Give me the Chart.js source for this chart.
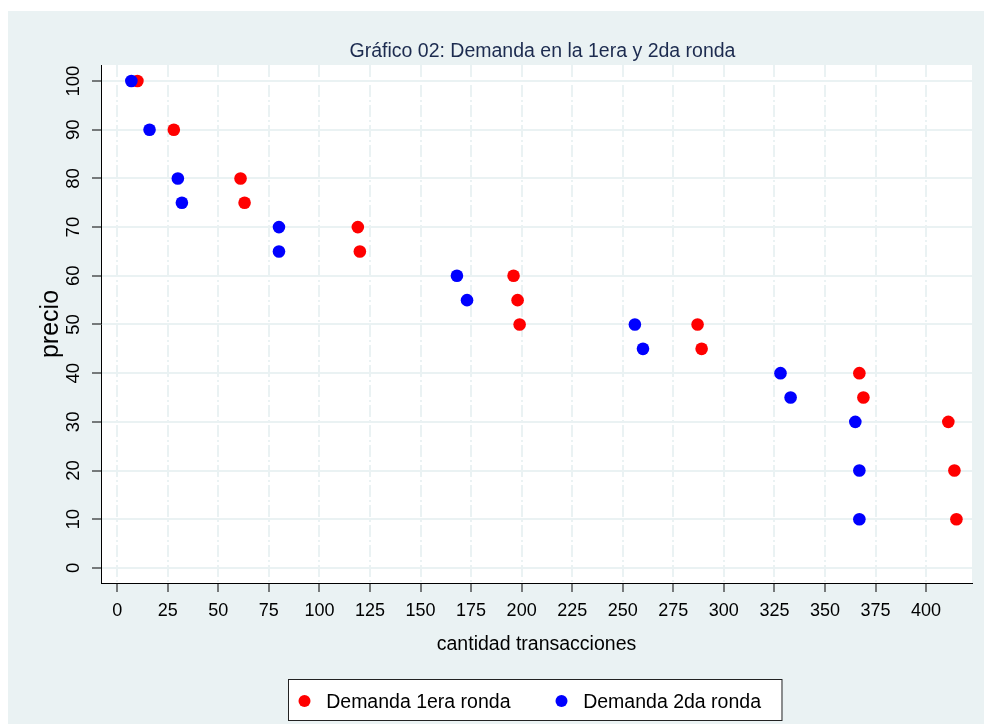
<!DOCTYPE html>
<html>
<head>
<meta charset="utf-8">
<script src="https://cdn.jsdelivr.net/npm/chart.js@4.4.1/dist/chart.umd.min.js"></script>
<style>
  body { margin: 0; background: #fff; }
  canvas { display: block; }
</style>
</head>
<body>
<canvas id="chart" width="984" height="724"></canvas>
<script>
const titleText = 'Gráfico 02: Demanda en la 1era y 2da ronda'
const xLabel = 'cantidad transacciones'
const yLabel = 'precio'
const xTicks = [0, 25, 50, 75, 100, 125, 150, 175, 200, 225, 250, 275, 300, 325, 350, 375, 400]
const yTicks = [0, 10, 20, 30, 40, 50, 60, 70, 80, 90, 100]

const ronda1Label = 'Demanda 1era ronda'
const ronda1X = [10, 28, 61, 63, 119, 120, 196, 198, 199, 287, 289, 367, 369, 411, 414, 415]
const ronda1Y = [100, 90, 80, 75, 70, 65, 60, 55, 50, 50, 45, 40, 35, 30, 20, 10]

const ronda2Label = 'Demanda 2da ronda'
const ronda2X = [7, 16, 30, 32, 80, 80, 168, 173, 256, 260, 328, 333, 365, 367, 367]
const ronda2Y = [100, 90, 80, 75, 70, 65, 60, 55, 50, 45, 40, 35, 30, 20, 10]

const FONT = "'Liberation Sans', Arial, sans-serif"
const BG = '#EAF2F3'

function toPoints(xs, ys) {
    return xs.map((x, i) => ({x: x, y: ys[i]}))
}

// fondo, titulo y leyenda en cuadro (estilo Stata)
const stataFrame = {
    id: 'stataFrame',
    beforeDraw(chart) {
        const {ctx, chartArea} = chart
        ctx.save()
        ctx.fillStyle = '#fff'
        ctx.fillRect(0, 0, chart.width, chart.height)
        ctx.fillStyle = BG
        ctx.fillRect(8, 11, chart.width - 8, chart.height - 11)
        ctx.fillStyle = '#fff'
        ctx.fillRect(chartArea.left, chartArea.top, chartArea.right - chartArea.left, chartArea.bottom - chartArea.top)
        ctx.restore()
    },
    afterDraw(chart) {
        const {ctx, chartArea} = chart
        const cx = (chartArea.left + chartArea.right) / 2
        ctx.save()
        ctx.font = '19.5px ' + FONT
        ctx.fillStyle = '#1C2B4F'
        ctx.textAlign = 'center'
        ctx.textBaseline = 'alphabetic'
        ctx.fillText(titleText, cx + 6, 57)

        // leyenda
        const sets = chart.data.datasets
        ctx.font = '19.5px ' + FONT
        const w = sets.map(d => ctx.measureText(d.label).width)
        const total = 16 + 21.7 + w[0] + 51 + 21.7 + w[1] + 21
        const left = Math.round(cx - 1.5 - total / 2) + 0.5
        const top = 679.5, h = 41
        ctx.fillStyle = '#fff'
        ctx.fillRect(left, top, total, h)
        ctx.strokeStyle = '#222'
        ctx.lineWidth = 1
        ctx.strokeRect(left, top, total, h)
        let x = left + 16
        sets.forEach((d, i) => {
            ctx.fillStyle = d.backgroundColor
            ctx.beginPath()
            ctx.arc(x, 701, 6, 0, Math.PI * 2)
            ctx.fill()
            ctx.fillStyle = '#000'
            ctx.textAlign = 'left'
            ctx.fillText(d.label, x + 21.7, 708)
            x += 21.7 + w[i] + 51
        })
        ctx.restore()
    }
}

const chart = new Chart(document.querySelector('#chart'), {
    type: 'scatter',
    data: {
        datasets: [
            {
                label: ronda1Label,
                data: toPoints(ronda1X, ronda1Y),
                backgroundColor: '#FF0000',
                borderWidth: 0,
                pointRadius: 6.3,
                order: 2
            },
            {
                label: ronda2Label,
                data: toPoints(ronda2X, ronda2Y),
                backgroundColor: '#0000FF',
                borderWidth: 0,
                pointRadius: 6.3,
                order: 1
            }
        ]
    },
    options: {
        responsive: false,
        devicePixelRatio: 1,
        animation: false,
        layout: {padding: {left: 0, top: 65, right: 12, bottom: 61}},
        plugins: {
            legend: {display: false},
            title: {display: false},
            tooltip: {enabled: false}
        },
        scales: {
            x: {
                type: 'linear',
                min: -8,
                max: 422.7,
                afterBuildTicks: s => { s.ticks = xTicks.map(v => ({value: v})) },
                afterFit: s => { s.height = 80 },
                grid: {color: BG, lineWidth: 2, tickColor: '#000', tickLength: 9, tickWidth: 1},
                border: {color: '#000', width: 1, dash: [12, 3, 2, 3]},
                ticks: {color: '#000', font: {family: FONT, size: 18}, padding: 8, maxRotation: 0},
                title: {display: true, text: xLabel, color: '#000', font: {family: FONT, size: 19.5}, padding: {top: 0, bottom: 6.4}}
            },
            y: {
                type: 'linear',
                min: -3.1,
                max: 103.3,
                afterBuildTicks: s => { s.ticks = yTicks.map(v => ({value: v})) },
                afterFit: s => { s.width = 101 },
                grid: {color: BG, lineWidth: 2, tickColor: '#000', tickLength: 9, tickWidth: 1},
                border: {color: '#000', width: 1},
                ticks: {color: '#000', font: {family: FONT, size: 18.5}, padding: 3, minRotation: 90, maxRotation: 90, crossAlign: 'center'},
                title: {display: true, text: yLabel, color: '#000', font: {family: FONT, size: 25}, padding: {top: 36, bottom: 0}}
            }
        }
    },
    plugins: [stataFrame]
})
</script>
</body>
</html>
